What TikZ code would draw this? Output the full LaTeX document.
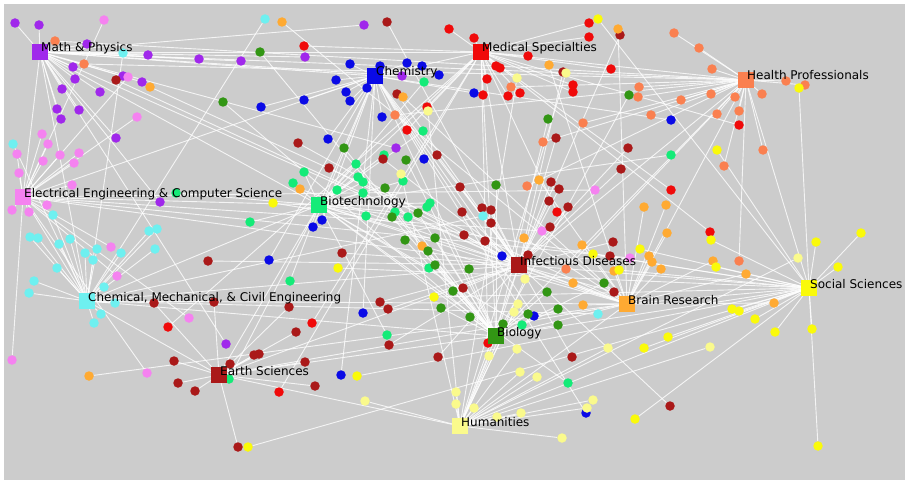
\documentclass[tikz,border=0pt]{standalone}
\usepackage{fontspec}
\setmainfont{DejaVu Sans}
\usetikzlibrary{positioning}
\definecolor{bggray}{RGB}{204,204,204}
\definecolor{cMP}{RGB}{160,40,235}
\definecolor{cCH}{RGB}{10,10,230}
\definecolor{cMS}{RGB}{240,10,10}
\definecolor{cHP}{RGB}{250,128,80}
\definecolor{cEE}{RGB}{245,130,240}
\definecolor{cBT}{RGB}{20,235,120}
\definecolor{cID}{RGB}{170,25,25}
\definecolor{cCM}{RGB}{110,240,240}
\definecolor{cBR}{RGB}{255,170,50}
\definecolor{cSS}{RGB}{250,250,10}
\definecolor{cBI}{RGB}{50,150,20}
\definecolor{cHU}{RGB}{250,250,140}
\pgfdeclarelayer{canvas}
\pgfdeclarelayer{edges}
\pgfdeclarelayer{hubs}
\pgfdeclarelayer{labels}
\pgfsetlayers{canvas,edges,main,hubs,labels}
% journals of one cluster: name, colour, positions
\newcommand\journals[3]{%
  \foreach \p [count=\i] in {#3}
    \node[dot, fill=#2] (#1\i) at \p {};
  \begin{pgfonlayer}{edges}
    \foreach \p [count=\i] in {#3}
      \draw[link] (#1\i) -- (#1);
  \end{pgfonlayer}}

\begin{document}
\begin{tikzpicture}[
    x=1pt, y=-1pt,
    hub/.style={rectangle, minimum size=16pt, inner sep=0pt},
    dot/.style={circle, minimum size=9.5pt, inner sep=0pt},
    link/.style={white, line width=0.9pt, opacity=0.8},
    lbl/.style={anchor=base west, inner sep=0pt, font=\fontsize{12}{14}\selectfont, text=black}
  ]
    \useasboundingbox (0,0) rectangle (909,484);
    \begin{pgfonlayer}{canvas}
    \fill[white] (0,0) rectangle (909,484);
    \fill[bggray] (4,4) rectangle (905,480);
    \end{pgfonlayer}

    % cluster squares
    \begin{pgfonlayer}{hubs}
    \node[hub, fill=cMP] (mp) at (40,52)  {};
    \node[hub, fill=cCH] (ch) at (375,76) {};
    \node[hub, fill=cMS] (ms) at (481,52) {};
    \node[hub, fill=cHP] (hp) at (746,80) {};
    \node[hub, fill=cEE] (ee) at (23,197) {};
    \node[hub, fill=cBT] (bt) at (319,205) {};
    \node[hub, fill=cID] (id) at (519,265) {};
    \node[hub, fill=cCM] (cm) at (87,301) {};
    \node[hub, fill=cBR] (br) at (627,304) {};
    \node[hub, fill=cSS] (ss) at (809,288) {};
    \node[hub, fill=cBI] (bi) at (496,336) {};
    \node[hub, fill=cID] (es) at (219,375) {};
    \node[hub, fill=cHU] (hu) at (460,426) {};
    \end{pgfonlayer}

    % labels
    \begin{pgfonlayer}{labels}
    \node[lbl] (mp-l) at ([xshift=1pt]mp.center) {Math \& Physics};
    \node[lbl] (ch-l) at ([xshift=1pt]ch.center) {Chemistry};
    \node[lbl] (ms-l) at ([xshift=1pt]ms.center) {Medical Specialties};
    \node[lbl] (hp-l) at ([xshift=1pt]hp.center) {Health Professionals};
    \node[lbl] (ee-l) at ([xshift=1pt]ee.center) {Electrical Engineering \& Computer Science};
    \node[lbl] (bt-l) at ([xshift=1pt]bt.center) {Biotechnology};
    \node[lbl] (id-l) at ([xshift=1pt]id.center) {Infectious Diseases};
    \node[lbl] (cm-l) at ([xshift=1pt]cm.center) {Chemical, Mechanical, \& Civil Engineering};
    \node[lbl] (br-l) at ([xshift=1pt]br.center) {Brain Research};
    \node[lbl] (ss-l) at ([xshift=1pt]ss.center) {Social Sciences};
    \node[lbl] (bi-l) at ([xshift=1pt]bi.center) {Biology};
    \node[lbl] (es-l) at ([xshift=1pt]es.center) {Earth Sciences};
    \node[lbl] (hu-l) at ([xshift=1pt]hu.center) {Humanities};
    \end{pgfonlayer}

    % links between clusters
    \begin{pgfonlayer}{edges}
    \foreach \a/\b in {mp/ch, mp/ms, mp/hp, mp/ee, mp/cm, mp/bt, mp/id, ee/cm, ee/bt, ee/ch, ee/id,
                       cm/bt, cm/id, cm/es, cm/bi, cm/br, ch/bt, ch/id, ch/bi, ch/ms, ms/id, ms/hp,
                       ms/bi, ms/bt, hp/id, hp/br, hp/ss, hp/bi, bt/id, bt/bi, bt/es, bt/br, id/bi,
                       id/br, id/ss, id/hu, br/ss, br/bi, br/hu, bi/hu, bi/es, bi/ss, es/hu, es/id,
                       hu/ss, es/br}
      \draw[link] (\a) -- (\b);
    \end{pgfonlayer}

    % journals
    \journals{mp}{cMP}{(15,23),(39,25),(87,44),(148,55),(199,59),(241,61),(73,67),(75,79),(123,76),
      (142,82),(62,89),(100,92),(57,109),(79,110),(61,119),(116,138),(364,25),(305,57),(402,76),
      (396,148),(160,202),(226,344)}
    \journals{ch}{cCH}{(261,107),(350,64),(380,66),(407,63),(422,66),(439,75),(336,80),(346,92),
      (367,88),(350,101),(304,100),(474,93),(382,117),(328,139),(424,159),(313,227),(322,220),
      (269,260),(502,256),(534,316),(363,313),(341,375),(586,413),(671,120)}
    \journals{ms}{cMS}{(449,29),(474,38),(589,23),(589,37),(304,46),(528,56),(496,66),(500,68),
      (487,79),(573,85),(573,92),(483,95),(508,96),(520,93),(427,107),(407,130),(611,69),(739,125),
      (671,190),(557,212),(710,232),(168,327),(312,323),(279,392),(488,343)}
    \journals{hp}{cHP}{(55,41),(84,64),(674,33),(699,48),(712,69),(639,87),(638,97),(681,100),
      (711,94),(735,97),(762,94),(786,81),(805,85),(651,115),(717,114),(739,111),(763,150),
      (724,166),(511,87),(395,115),(583,123),(543,142),(527,186),(566,269),(739,261)}
    \journals{ee}{cEE}{(104,20),(128,77),(137,117),(42,134),(48,144),(17,154),(60,155),(79,153),
      (43,161),(74,163),(19,173),(72,185),(12,210),(29,212),(47,205),(111,247),(117,276),(189,318),
      (12,360),(147,373),(595,190),(542,231),(630,258)}
    \journals{bt}{cBT}{(293,183),(424,82),(423,131),(384,155),(356,164),(304,172),(358,177),
      (363,182),(403,181),(337,190),(363,193),(176,193),(250,222),(290,281),(366,216),(408,217),
      (427,207),(430,203),(395,212),(429,268),(522,325),(387,335),(568,383),(229,379),(671,155)}
    \journals{id}{cID}{(116,80),(298,143),(387,22),(397,94),(329,168),(437,155),(383,159),(460,187),
      (551,182),(559,189),(556,138),(628,148),(621,169),(620,35),(563,72),(462,212),(482,208),
      (491,210),(491,223),(549,201),(568,207),(464,235),(485,241),(550,227),(528,255),
      (613,242),(610,256),(614,292),(463,288),(380,302),(388,309),(389,345),(438,357),
      (572,357),(670,406),(342,253),(208,261)}
    \journals{es}{cID}{(154,303),(214,302),(289,307),(296,332),(174,361),(254,355),(259,354),
      (230,364),(305,362),(178,383),(195,391),(315,386),(238,447)}
    \journals{cm}{cCM}{(265,19),(123,53),(13,144),(53,215),(30,237),(38,238),(59,244),(70,239),
      (85,253),(97,249),(121,253),(93,260),(149,231),(157,229),(155,249),(57,268),(34,281),(29,293),
      (104,287),(115,303),(101,314),(94,323),(483,216),(598,314)}
    \journals{br}{cBR}{(282,22),(150,87),(403,97),(549,65),(618,29),(539,180),(524,238),(422,246),
      (582,245),(644,207),(666,205),(667,233),(649,256),(661,269),(614,271),(573,283),(583,305),
      (652,262),(713,261),(746,274),(774,303),(300,189),(89,376)}
    \journals{ss}{cSS}{(598,19),(799,88),(717,150),(273,203),(338,268),(434,297),(640,249),(593,254),
      (619,270),(711,240),(716,267),(816,242),(861,233),(838,267),(732,309),(739,311),
      (755,319),(775,332),(812,329),(668,337),(644,348),(357,376),(635,419),(818,446),(248,447)}
    \journals{hu}{cHU}{(566,73),(517,78),(428,111),(401,174),(525,279),(518,304),(514,312),(489,356),
      (517,349),(520,372),(537,377),(608,348),(710,347),(798,258),(593,400),(587,408),
      (562,438),(456,392),(456,404),(474,408),(497,417),(521,413),(365,401)}
    \journals{bi}{cBI}{(260,52),(223,102),(344,148),(406,160),(385,188),(496,185),(548,119),(629,95),
      (392,217),(418,213),(405,240),(428,251),(435,238),(435,265),(469,269),(453,291),
      (441,308),(470,317),(528,314),(558,309),(547,292),(604,283),(503,324),(558,325)}
  \end{tikzpicture}
\end{document}
